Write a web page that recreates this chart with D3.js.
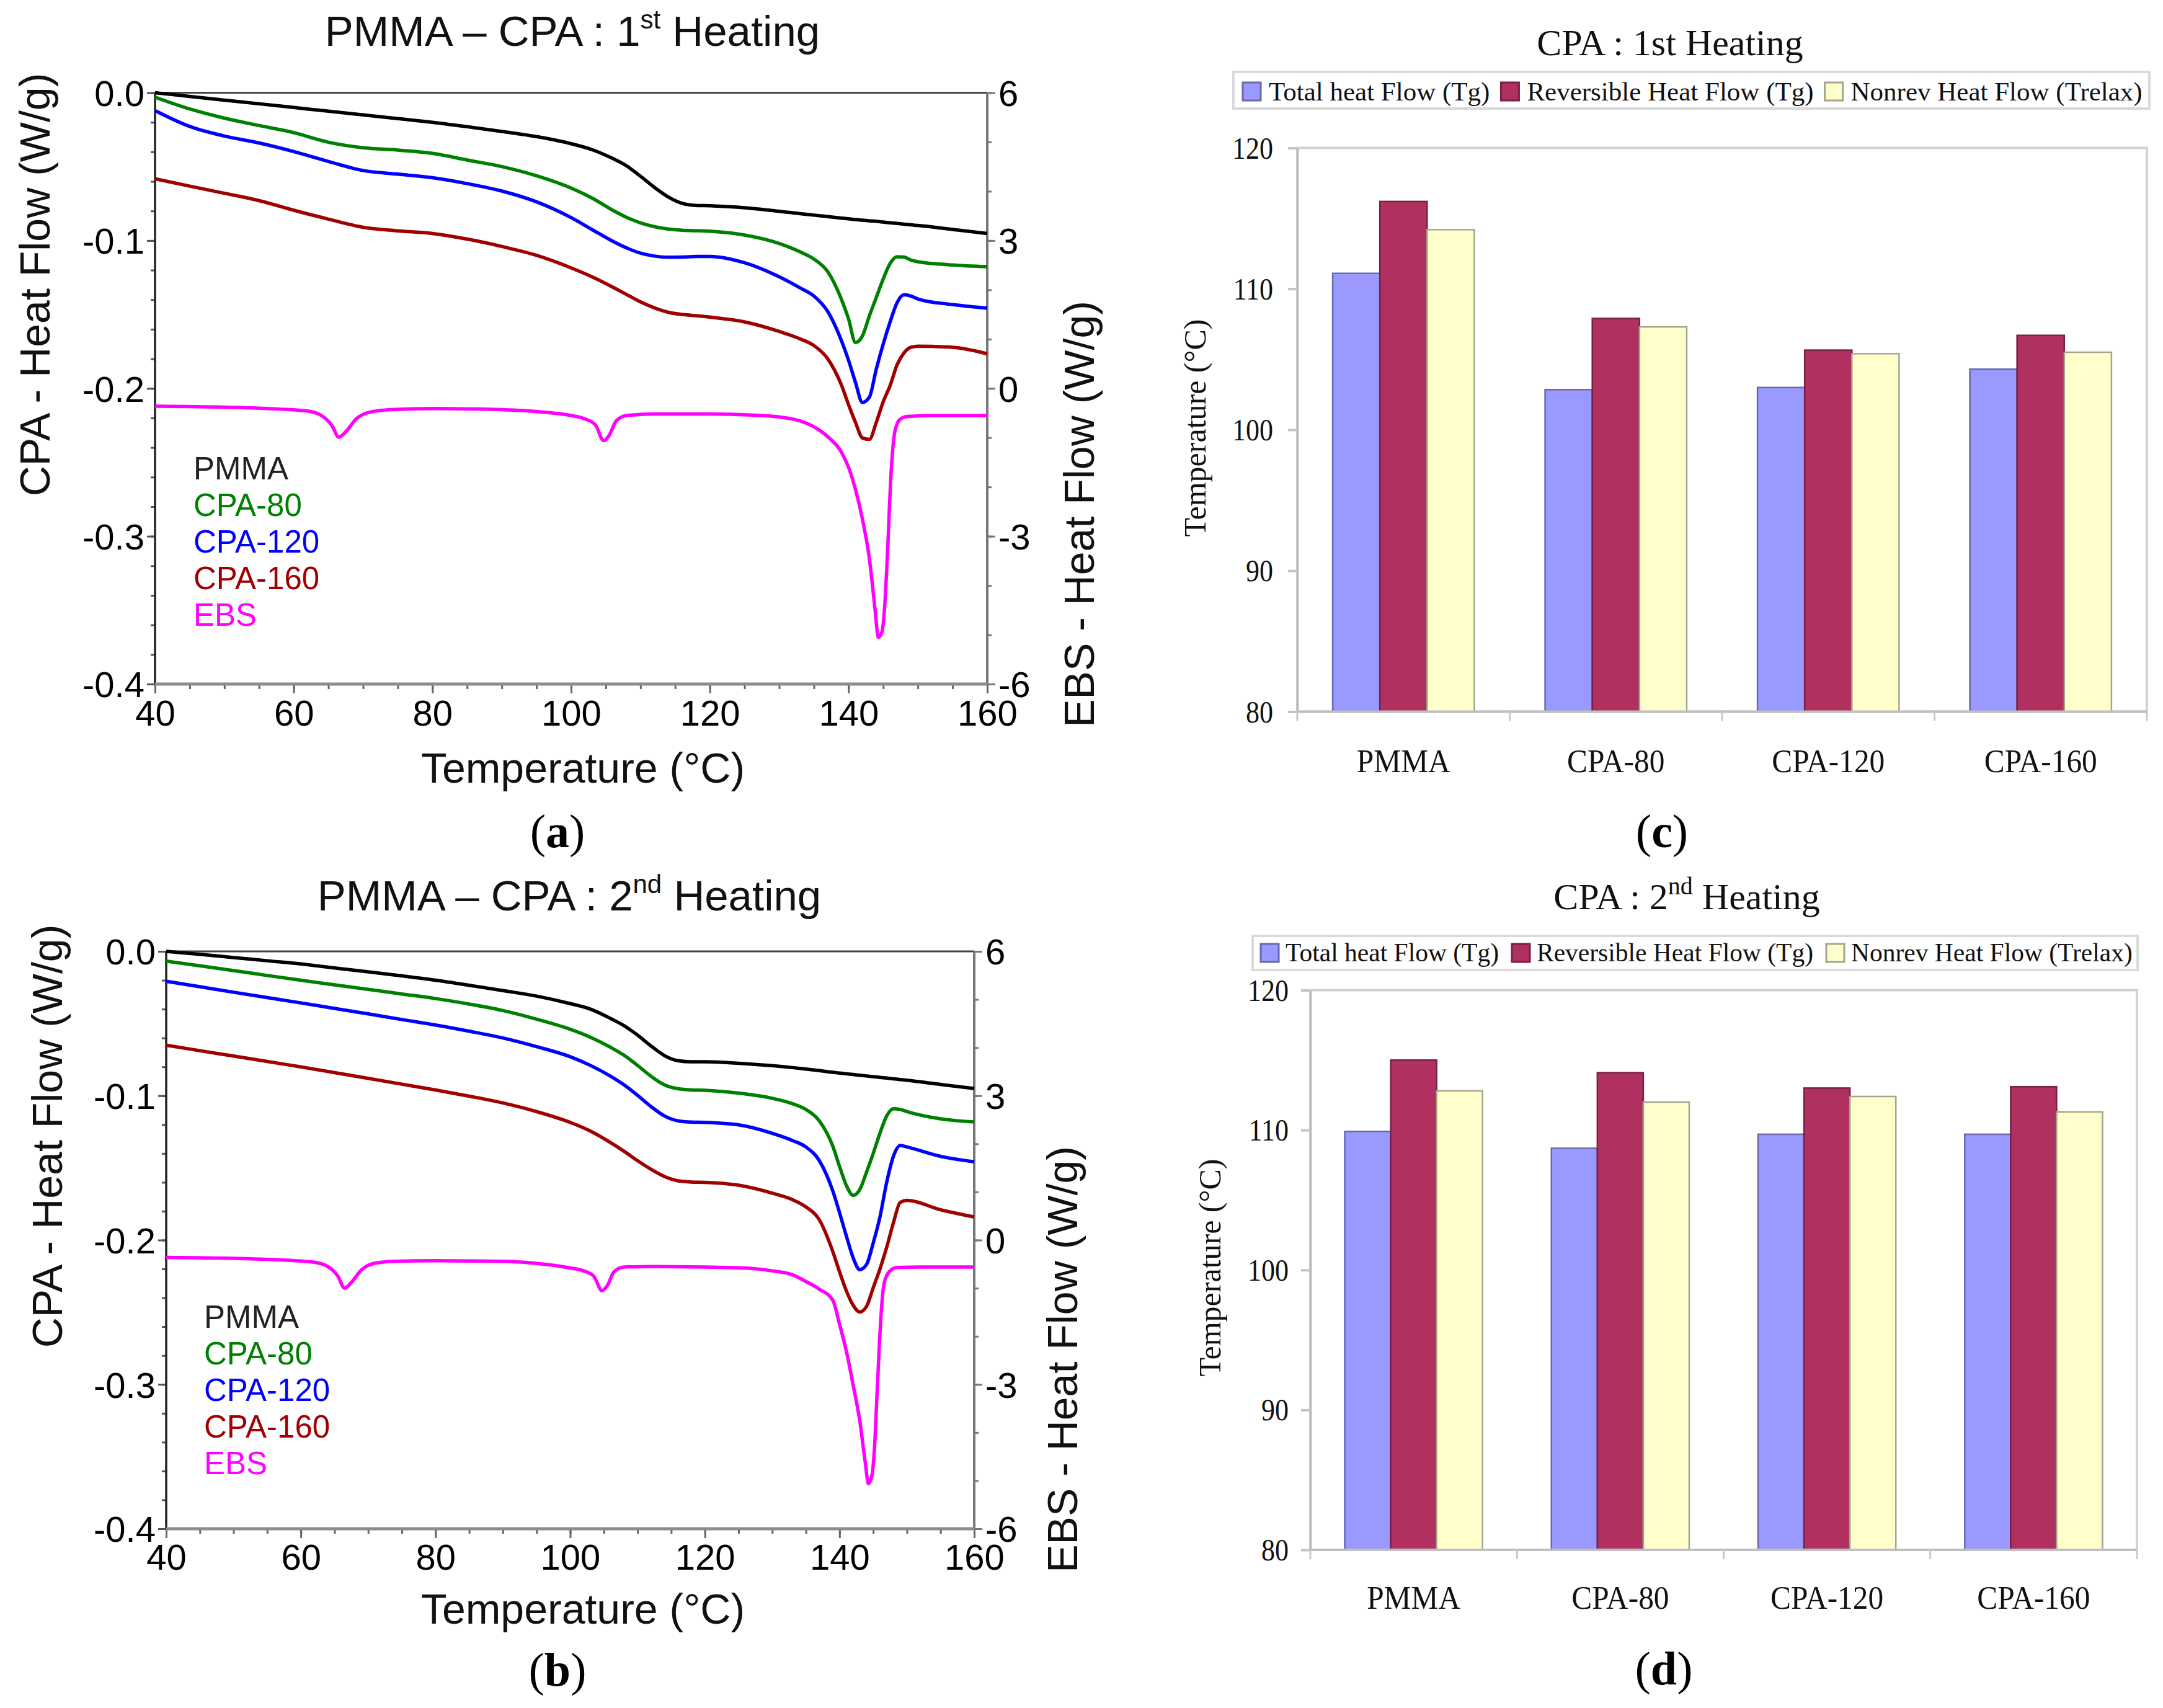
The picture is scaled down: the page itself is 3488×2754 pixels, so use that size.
<!DOCTYPE html>
<html><head><meta charset="utf-8">
<script src="https://cdn.jsdelivr.net/npm/d3@7"></script>
<style>body{margin:0;background:#fff}svg{display:block}</style>
</head><body>
<script>
// ---------------- DATA ----------------
const tempGrid = [40,45,50,55,60,65,70,75,80,85,90,95,100,103,106,108,110,112,114,116,118,120,125,130,133,135,137,139,140,141,142,143,144,145,146,147,148,149,150,155,160];
// (a) 1st heating, CPA left axis (W/g)
const pmma1   = [0,-0.0025,-0.005,-0.0075,-0.01,-0.0125,-0.015,-0.0175,-0.02,-0.023,-0.0262,-0.0297,-0.0345,-0.0385,-0.0445,-0.0495,-0.0565,-0.064,-0.0705,-0.0748,-0.0762,-0.0765,-0.0778,-0.0802,-0.0818,-0.0828,-0.0838,-0.0848,-0.0853,-0.0858,-0.0862,-0.0866,-0.087,-0.0875,-0.088,-0.0884,-0.0889,-0.0894,-0.0898,-0.0925,-0.0952];
const cpa80_1 = [-0.003,-0.011,-0.0172,-0.0222,-0.027,-0.0335,-0.0372,-0.0388,-0.041,-0.0455,-0.05,-0.0562,-0.0645,-0.0712,-0.0795,-0.0843,-0.088,-0.0906,-0.0922,-0.093,-0.0933,-0.0937,-0.0963,-0.102,-0.1076,-0.1125,-0.121,-0.14,-0.153,-0.169,-0.1645,-0.151,-0.1385,-0.126,-0.1155,-0.111,-0.1112,-0.1132,-0.1143,-0.1165,-0.1177];
const cpa120_1= [-0.0121,-0.0228,-0.0293,-0.034,-0.0398,-0.0465,-0.0526,-0.0551,-0.0575,-0.0615,-0.0665,-0.0738,-0.0845,-0.0925,-0.1005,-0.105,-0.1085,-0.1105,-0.1113,-0.1112,-0.1108,-0.1107,-0.115,-0.1245,-0.132,-0.1375,-0.148,-0.168,-0.181,-0.196,-0.2095,-0.206,-0.187,-0.17,-0.155,-0.142,-0.1367,-0.1375,-0.1395,-0.1433,-0.1458];
const cpa160_1= [-0.0582,-0.0632,-0.068,-0.073,-0.0795,-0.0855,-0.091,-0.0934,-0.0952,-0.099,-0.104,-0.11,-0.1185,-0.1245,-0.1315,-0.1365,-0.1415,-0.1455,-0.1485,-0.15,-0.1508,-0.1518,-0.155,-0.1615,-0.1665,-0.171,-0.18,-0.198,-0.211,-0.223,-0.2335,-0.2345,-0.223,-0.209,-0.198,-0.184,-0.176,-0.1722,-0.1715,-0.1722,-0.1766];
// (b) 2nd heating
const pmma2   = [0,-0.002,-0.0043,-0.0065,-0.0087,-0.0115,-0.0142,-0.017,-0.02,-0.0235,-0.0272,-0.031,-0.0362,-0.04,-0.0465,-0.0515,-0.058,-0.0655,-0.0722,-0.0757,-0.0765,-0.0765,-0.0775,-0.0792,-0.0805,-0.0815,-0.0826,-0.0838,-0.0843,-0.0848,-0.0853,-0.0858,-0.0863,-0.0868,-0.0873,-0.0878,-0.0883,-0.0888,-0.0893,-0.0922,-0.095];
const cpa80_2 = [-0.0068,-0.01,-0.0133,-0.0167,-0.02,-0.0232,-0.0263,-0.0295,-0.0327,-0.0365,-0.041,-0.047,-0.054,-0.0595,-0.0665,-0.072,-0.079,-0.0865,-0.0925,-0.0952,-0.096,-0.0962,-0.0982,-0.1018,-0.1055,-0.1095,-0.1175,-0.135,-0.149,-0.162,-0.169,-0.165,-0.153,-0.14,-0.126,-0.114,-0.109,-0.1095,-0.111,-0.116,-0.1182];
const cpa120_2= [-0.0207,-0.0245,-0.0283,-0.032,-0.0357,-0.0395,-0.0433,-0.0472,-0.051,-0.0553,-0.06,-0.066,-0.073,-0.079,-0.0865,-0.0925,-0.0997,-0.1075,-0.114,-0.1174,-0.1183,-0.1185,-0.1202,-0.126,-0.131,-0.1355,-0.145,-0.166,-0.181,-0.197,-0.212,-0.2205,-0.217,-0.202,-0.184,-0.16,-0.142,-0.1345,-0.1355,-0.142,-0.1458];
const cpa160_2= [-0.065,-0.0688,-0.0725,-0.0763,-0.08,-0.084,-0.088,-0.092,-0.096,-0.1003,-0.105,-0.111,-0.1185,-0.1245,-0.1325,-0.1385,-0.145,-0.151,-0.156,-0.159,-0.1598,-0.16,-0.162,-0.1675,-0.172,-0.177,-0.186,-0.208,-0.222,-0.235,-0.245,-0.2498,-0.246,-0.233,-0.22,-0.205,-0.188,-0.174,-0.1725,-0.179,-0.184];
// EBS on right axis (W/g)
const ebsTemp = [40,50,58,62,64,65.5,66.5,67.5,69,71,74,80,90,96,100,102,103.5,104.7,105.5,106.5,108,112,120,126,130,133,135,137,139,140,141,142,143,143.8,144.3,144.8,145.2,145.6,146.1,146.5,147,147.5,148.5,152,160];
const ebs1 = [-0.36,-0.38,-0.42,-0.46,-0.55,-0.75,-0.99,-0.88,-0.62,-0.48,-0.43,-0.41,-0.43,-0.48,-0.55,-0.62,-0.74,-1.06,-0.95,-0.66,-0.55,-0.52,-0.52,-0.54,-0.58,-0.66,-0.78,-0.98,-1.3,-1.6,-2.05,-2.65,-3.45,-4.45,-5.05,-4.95,-4.45,-3.4,-1.8,-1.05,-0.72,-0.62,-0.57,-0.55,-0.55];
const ebs2 = [-0.36,-0.38,-0.42,-0.46,-0.55,-0.75,-1.0,-0.88,-0.62,-0.48,-0.44,-0.43,-0.44,-0.5,-0.58,-0.64,-0.75,-1.05,-0.95,-0.66,-0.56,-0.55,-0.56,-0.58,-0.64,-0.72,-0.86,-1.02,-1.25,-1.75,-2.3,-3.0,-3.75,-4.6,-5.06,-4.9,-4.3,-3.1,-1.7,-1.0,-0.74,-0.64,-0.57,-0.56,-0.56];
const seriesNames = ["PMMA","CPA-80","CPA-120","CPA-160","EBS"];
const xTickLabels = [40,60,80,100,120,140,160];
const leftTickLabels = [0.0,-0.1,-0.2,-0.3,-0.4];
const rightTickLabels = [6,3,0,-3,-6];
// bar charts
const barCategories = ["PMMA","CPA-80","CPA-120","CPA-160"];
const barSeries = ["Total heat Flow (Tg)","Reversible Heat Flow (Tg)","Nonrev Heat Flow (Trelax)"];
const totalHeat1 = [111.1,102.85,103.0,104.3];
const reversible1 = [116.2,107.9,105.65,106.7];
const nonrev1 = [114.2,107.3,105.4,105.5];
const totalHeat2 = [109.9,108.7,109.7,109.7];
const reversible2 = [115.0,114.1,113.0,113.1];
const nonrev2 = [112.8,112.0,112.4,111.3];
const barTicks = [80,90,100,110,120];

// ---------------- DRAW ----------------
const W=3488,H=2754;
const SANS="'Liberation Sans', Arial, sans-serif";
const SERIF="'Liberation Serif', 'Times New Roman', serif";
const svg=d3.select("body").append("svg").attr("width",W).attr("height",H);
svg.append("rect").attr("width",W).attr("height",H).attr("fill","#fff");

const lineColors=["#000000","#008000","#0000ff","#a00000","#ff00ff"];

function dscPanel(o){
  const g=svg.append("g");
  const {L,R,T,B}=o.box;
  const x=d3.scaleLinear().domain([40,160]).range([L,R]);
  const y=d3.scaleLinear().domain([-0.4,0]).range([B,T]);
  const y2=d3.scaleLinear().domain([-6,6]).range([B,T]);
  const ax=(axis,tr,col)=>{const a=g.append("g").attr("transform",tr).call(axis);a.select(".domain").remove();a.selectAll("line").attr("stroke",col).attr("stroke-width",3);return a;};
  // minor ticks
  ax(d3.axisBottom(x).tickValues(d3.range(40,161,5)).tickSize(8).tickFormat(""),`translate(0,${B})`,"#666");
  ax(d3.axisLeft(y).tickValues(d3.range(0,21).map(i=>-i*0.02)).tickSize(7).tickFormat(""),`translate(${L},0)`,"#555");
  ax(d3.axisRight(y2).tickValues(d3.range(-6,7,1)).tickSize(7).tickFormat(""),`translate(${R},0)`,"#777");
  // major ticks + labels
  const xa=ax(d3.axisBottom(x).tickValues(xTickLabels).tickSize(15).tickFormat(d=>String(d)),`translate(0,${B})`,"#666");
  xa.selectAll("text").attr("font-family",SANS).attr("font-size",58).attr("fill","#000").attr("y",o.xLabBase-B).attr("dy",0);
  const ya=ax(d3.axisLeft(y).tickValues(leftTickLabels).tickSize(13).tickPadding(4).tickFormat(d=>d.toFixed(1)),`translate(${L},0)`,"#555");
  ya.selectAll("text").attr("font-family",SANS).attr("font-size",58).attr("fill","#000").attr("dy","0.36em");
  const y2a=ax(d3.axisRight(y2).tickValues(rightTickLabels).tickSize(13).tickPadding(5).tickFormat(d=>String(d)),`translate(${R},0)`,"#777");
  y2a.selectAll("text").attr("font-family",SANS).attr("font-size",58).attr("fill","#000").attr("dy","0.36em");
  // frame
  g.append("line").attr("x1",L).attr("x2",R).attr("y1",T).attr("y2",T).attr("stroke","#444").attr("stroke-width",3);
  g.append("line").attr("x1",R).attr("x2",R).attr("y1",T).attr("y2",B).attr("stroke","#777").attr("stroke-width",4);
  g.append("line").attr("x1",L).attr("x2",L).attr("y1",T).attr("y2",B).attr("stroke","#222").attr("stroke-width",3.5);
  g.append("line").attr("x1",L).attr("x2",R).attr("y1",B).attr("y2",B).attr("stroke","#8c8c8c").attr("stroke-width",5);
  // curves
  const line=d3.line().x(d=>x(d[0])).y(d=>y(d[1])).curve(d3.curveMonotoneX);
  const line2=d3.line().x(d=>x(d[0])).y(d=>y2(d[1])).curve(d3.curveMonotoneX);
  o.series.forEach((s,i)=>{
    g.append("path").datum(d3.zip(tempGrid,s)).attr("d",line).attr("fill","none").attr("stroke",lineColors[i]).attr("stroke-width",5.5).attr("stroke-linejoin","round");
  });
  g.append("path").datum(d3.zip(ebsTemp,o.ebs)).attr("d",line2).attr("fill","none").attr("stroke",lineColors[4]).attr("stroke-width",5.5).attr("stroke-linejoin","round");
  // legend
  seriesNames.forEach((n,i)=>{
    g.append("text").attr("x",o.legX).attr("y",o.legY+i*59).attr("font-family",SANS).attr("font-size",51)
      .attr("fill",i===0?"#222":lineColors[i]).text(n);
  });
  // titles
  const t=g.append("text").attr("x",o.titleX).attr("y",o.titleY).attr("text-anchor","middle").attr("font-family",SANS).attr("font-size",69).attr("fill","#111");
  t.append("tspan").text(o.title[0]);
  t.append("tspan").attr("font-size",42).attr("dy",-28).text(o.title[1]);
  t.append("tspan").attr("font-size",69).attr("dy",28).text(o.title[2]);
  g.append("text").attr("x",o.xTitle[0]).attr("y",o.xTitle[1]).attr("text-anchor","middle").attr("font-family",SANS).attr("font-size",68).attr("fill","#111").text("Temperature (°C)");
  g.append("text").attr("transform",`translate(${o.yTitle[0]},${o.yTitle[1]}) rotate(-90)`).attr("text-anchor","middle").attr("dominant-baseline","central").attr("font-family",SANS).attr("font-size",68).attr("fill","#111").text("CPA - Heat Flow (W/g)");
  g.append("text").attr("transform",`translate(${o.y2Title[0]},${o.y2Title[1]}) rotate(-90)`).attr("text-anchor","middle").attr("dominant-baseline","central").attr("font-family",SANS).attr("font-size",68).attr("fill","#111").text("EBS - Heat Flow (W/g)");
  panelLabel(o.label,o.labelPos);
}

function panelLabel(ch,pos){
  const t=svg.append("text").attr("x",pos[0]).attr("y",pos[1]).attr("text-anchor","middle").attr("font-family",SERIF).attr("font-size",76).attr("fill","#000");
  t.append("tspan").text("(");
  t.append("tspan").attr("font-weight","bold").text(ch);
  t.append("tspan").text(")");
}

const barFill=["#9999ff","#b0305f","#ffffcc"];
const barStroke=["#6868b0","#7a1f45","#a5a58c"];

function barPanel(o){
  const g=svg.append("g");
  const {L,R,T,B}=o.box;
  const x0=d3.scaleBand().domain(barCategories).range([L,R]).paddingInner(1/3).paddingOuter(1/6);
  const x1=d3.scaleBand().domain(barSeries).range([0,x0.bandwidth()]);
  const y=d3.scaleLinear().domain([80,120]).range([B,T]);
  // border
  g.append("rect").attr("x",L).attr("y",T).attr("width",R-L).attr("height",B-T).attr("fill","none").attr("stroke","#d2d2d2").attr("stroke-width",4);
  // bars
  const rows=barCategories.map((c,i)=>({cat:c,vals:[o.data[0][i],o.data[1][i],o.data[2][i]]}));
  rows.forEach(r=>{
    r.vals.forEach((v,j)=>{
      g.append("rect").attr("x",x0(r.cat)+x1(barSeries[j])).attr("y",y(v)).attr("width",x1.bandwidth()).attr("height",B-y(v))
        .attr("fill",barFill[j]).attr("stroke",barStroke[j]).attr("stroke-width",2.5);
    });
  });
  // y axis
  const ya=g.append("g").attr("transform",`translate(${L},0)`).call(d3.axisLeft(y).tickValues(barTicks).tickSize(15).tickSizeOuter(0).tickFormat(""));
  ya.select(".domain").attr("stroke","#bdbdbd").attr("stroke-width",4);
  ya.selectAll("line").attr("stroke","#c4c4c4").attr("stroke-width",4);
  barTicks.forEach(v=>{
    g.append("text").attr("transform",`translate(${o.yLabX},${y(v)+17}) scale(0.88,1)`).attr("text-anchor","end")
      .attr("font-family",SERIF).attr("font-size",50).attr("fill","#111").text(v);
  });
  // x axis
  g.append("line").attr("x1",L).attr("x2",R).attr("y1",B).attr("y2",B).attr("stroke","#c0c0c0").attr("stroke-width",4);
  d3.range(barCategories.length+1).forEach(i=>{
    const xx=L+i*x0.step();
    g.append("line").attr("x1",xx).attr("x2",xx).attr("y1",B).attr("y2",B+15).attr("stroke","#c8c8c8").attr("stroke-width",3);
  });
  barCategories.forEach(c=>{
    g.append("text").attr("transform",`translate(${x0(c)+x0.bandwidth()/2},${o.catY}) scale(0.95,1)`).attr("text-anchor","middle")
      .attr("font-family",SERIF).attr("font-size",52).attr("fill","#111").text(c);
  });
  // y title
  g.append("text").attr("transform",`translate(${o.yTitle[0]},${o.yTitle[1]}) rotate(-90)`).attr("text-anchor","middle").attr("dominant-baseline","central")
    .attr("font-family",SERIF).attr("font-size",50).attr("fill","#111").text("Temperature (°C)");
  // title
  const t=g.append("text").attr("x",o.titleX).attr("y",o.titleY).attr("text-anchor","middle").attr("font-family",SERIF).attr("font-size",60).attr("fill","#111");
  t.append("tspan").text(o.title[0]);
  if(o.title[1]){t.append("tspan").attr("font-size",40).attr("dy",-24).text(o.title[1]);t.append("tspan").attr("font-size",60).attr("dy",24).text(o.title[2]);}
  // legend
  const lb=o.legBox;
  g.append("rect").attr("x",lb[0]).attr("y",lb[1]).attr("width",lb[2]).attr("height",lb[3]).attr("fill","#fff").attr("stroke","#dadada").attr("stroke-width",4);
  let cx=o.legStart;
  barSeries.forEach((s,j)=>{
    g.append("rect").attr("x",cx).attr("y",o.legSqY).attr("width",29).attr("height",29).attr("fill",barFill[j]).attr("stroke",barStroke[j]).attr("stroke-width",3);
    const tx=g.append("text").attr("x",cx+o.legOff).attr("y",o.legBase).attr("font-family",SERIF).attr("font-size",o.legFont).attr("fill","#111").text(s);
    cx=cx+o.legOff+tx.node().getComputedTextLength()+o.legGap;
  });
  panelLabel(o.label,o.labelPos);
}

dscPanel({box:{L:250,R:1592,T:149.5,B:1103},series:[pmma1,cpa80_1,cpa120_1,cpa160_1],ebs:ebs1,
  xLabBase:1170,legX:312,legY:773,title:["PMMA – CPA : 1","st"," Heating"],titleX:923,titleY:74,
  xTitle:[940,1262],yTitle:[56,459],y2Title:[1740,829],label:"a",labelPos:[899,1366]});
dscPanel({box:{L:268,R:1571,T:1534,B:2465},series:[pmma2,cpa80_2,cpa120_2,cpa160_2],ebs:ebs2,
  xLabBase:2531,legX:329,legY:2141,title:["PMMA – CPA : 2","nd"," Heating"],titleX:918,titleY:1468,
  xTitle:[940,2618],yTitle:[76,1832],y2Title:[1713,2192],label:"b",labelPos:[899,2718]});
barPanel({box:{L:2092,R:3462,T:238.5,B:1147.5},data:[totalHeat1,reversible1,nonrev1],yLabX:2053,catY:1245,
  yTitle:[1927,690],titleX:2693,titleY:89,title:["CPA : 1st Heating"],legBox:[1989,116,1477,59],legStart:2004,legSqY:133,legBase:162,legFont:43,legOff:42,legGap:18,
  label:"c",labelPos:[2680,1366]});
barPanel({box:{L:2113,R:3446,T:1596.5,B:2499},data:[totalHeat2,reversible2,nonrev2],yLabX:2078,catY:2594,
  yTitle:[1951,2044],titleX:2720,titleY:1466,title:["CPA : 2","nd"," Heating"],legBox:[2020,1509,1427,55],legStart:2033,legSqY:1522,legBase:1550,legFont:41.5,legOff:40,legGap:21,
  label:"d",labelPos:[2683,2716]});
</script>
</body></html>
